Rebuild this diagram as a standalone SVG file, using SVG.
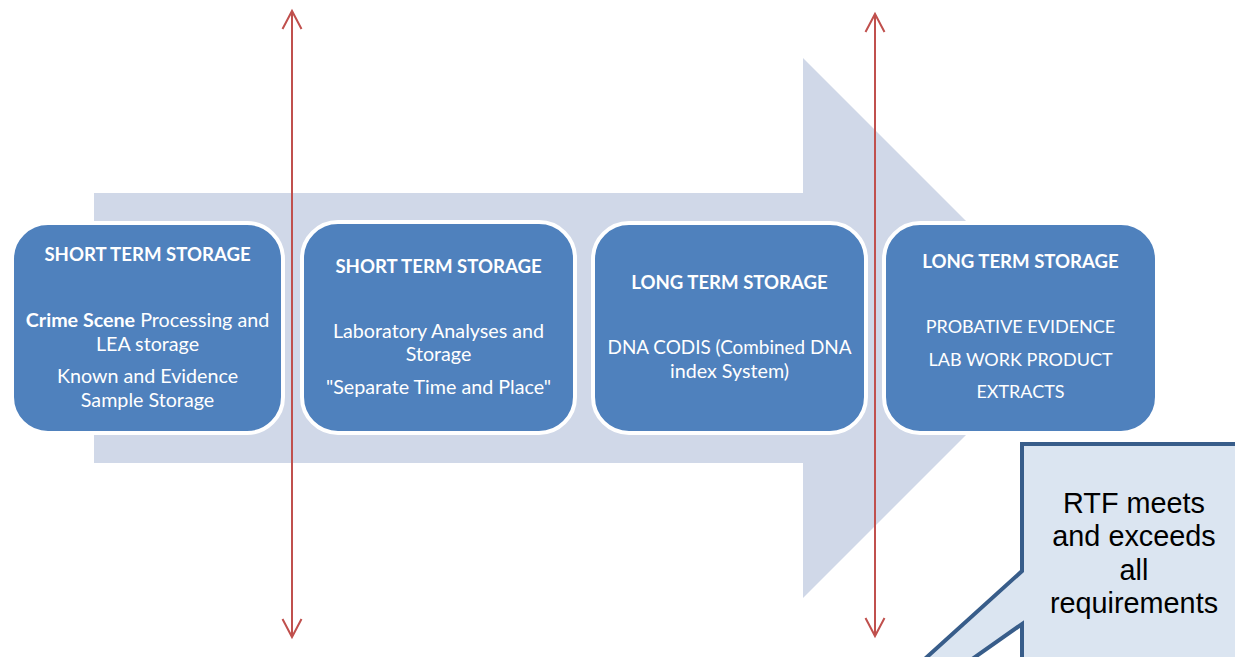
<svg xmlns="http://www.w3.org/2000/svg" width="1235" height="657" viewBox="0 0 1235 657">
  <style>
    .flow { fill: #d0d8e8; }
    .box { fill: #4f81bd; stroke: #ffffff; stroke-width: 4; }
    .title { font-family: Lato, "Liberation Sans", sans-serif; font-weight: bold; font-size: 18.6px; fill: #ffffff; text-anchor: middle; }
    .body { font-family: Lato, "Liberation Sans", sans-serif; font-size: 19.7px; fill: #ffffff; text-anchor: middle; }
    .body .b { font-weight: bold; }
    .caps { font-size: 18px; }
    .divider { stroke: #c0504d; stroke-width: 2; fill: none; }
    .callout { fill: #dbe5f1; stroke: #385d8a; stroke-width: 4; stroke-linejoin: miter; }
    .note { font-family: "Liberation Sans", Arial, sans-serif; font-size: 28.8px; fill: #000000; text-anchor: middle; }
  </style>
  <defs>
    <marker id="vhead" viewBox="-20 -12 23 24" markerWidth="23" markerHeight="24" refX="0" refY="0" markerUnits="userSpaceOnUse" orient="auto-start-reverse">
      <path d="M-18,-9.5 L0,0 L-18,9.5" fill="none" stroke="#c0504d" stroke-width="2"/>
    </marker>
  </defs>

  <rect width="1235" height="657" fill="#ffffff"/>

  <!-- broad background arrow -->
  <polygon class="flow" points="94,193 803,193 803,58 1073,328 803,598 803,463 94,463"/>

  <g id="stage-1">
    <rect class="box" x="12" y="223" width="271" height="210" rx="36" ry="36"/>
    <text class="title" x="147.5" y="261">SHORT TERM STORAGE</text>
    <text class="body" x="147.5" y="327"><tspan class="b">Crime Scene</tspan> Processing and</text>
    <text class="body" x="147.5" y="351">LEA storage</text>
    <text class="body" x="147.5" y="383">Known and Evidence</text>
    <text class="body" x="147.5" y="407">Sample Storage</text>
  </g>

  <g id="stage-2">
    <rect class="box" x="302" y="222" width="273" height="211" rx="36" ry="36"/>
    <text class="title" x="438.5" y="273">SHORT TERM STORAGE</text>
    <text class="body" x="438.5" y="338">Laboratory Analyses and</text>
    <text class="body" x="438.5" y="361">Storage</text>
    <text class="body" x="438.5" y="394">"Separate Time and Place"</text>
  </g>

  <g id="stage-3">
    <rect class="box" x="593" y="223" width="273" height="210" rx="36" ry="36"/>
    <text class="title" x="729.5" y="289">LONG TERM STORAGE</text>
    <text class="body" x="729.5" y="354" style="font-size:18.9px">DNA CODIS (Combined DNA</text>
    <text class="body" x="729.5" y="378">index System)</text>
  </g>

  <g id="stage-4">
    <rect class="box" x="884" y="223" width="273" height="210" rx="36" ry="36"/>
    <text class="title" x="1020.5" y="268">LONG TERM STORAGE</text>
    <text class="body caps" x="1020.5" y="333">PROBATIVE EVIDENCE</text>
    <text class="body caps" x="1020.5" y="366">LAB WORK PRODUCT</text>
    <text class="body caps" x="1020.5" y="398">EXTRACTS</text>
  </g>

  <!-- double-headed dividers between phases -->
  <g id="connectors">
    <line class="divider" x1="292" y1="11" x2="292" y2="637" marker-start="url(#vhead)" marker-end="url(#vhead)"/>
    <line class="divider" x1="875" y1="14" x2="875" y2="636" marker-start="url(#vhead)" marker-end="url(#vhead)"/>
  </g>

  <g id="callout">
    <path class="callout" d="M1022,444 H1250 V700 H1022 V624 L759,809 L1022,571 Z"/>
    <text class="note" x="1134" y="513">RTF meets</text>
    <text class="note" x="1134" y="546">and exceeds</text>
    <text class="note" x="1134" y="580">all</text>
    <text class="note" x="1134" y="613">requirements</text>
  </g>
</svg>
